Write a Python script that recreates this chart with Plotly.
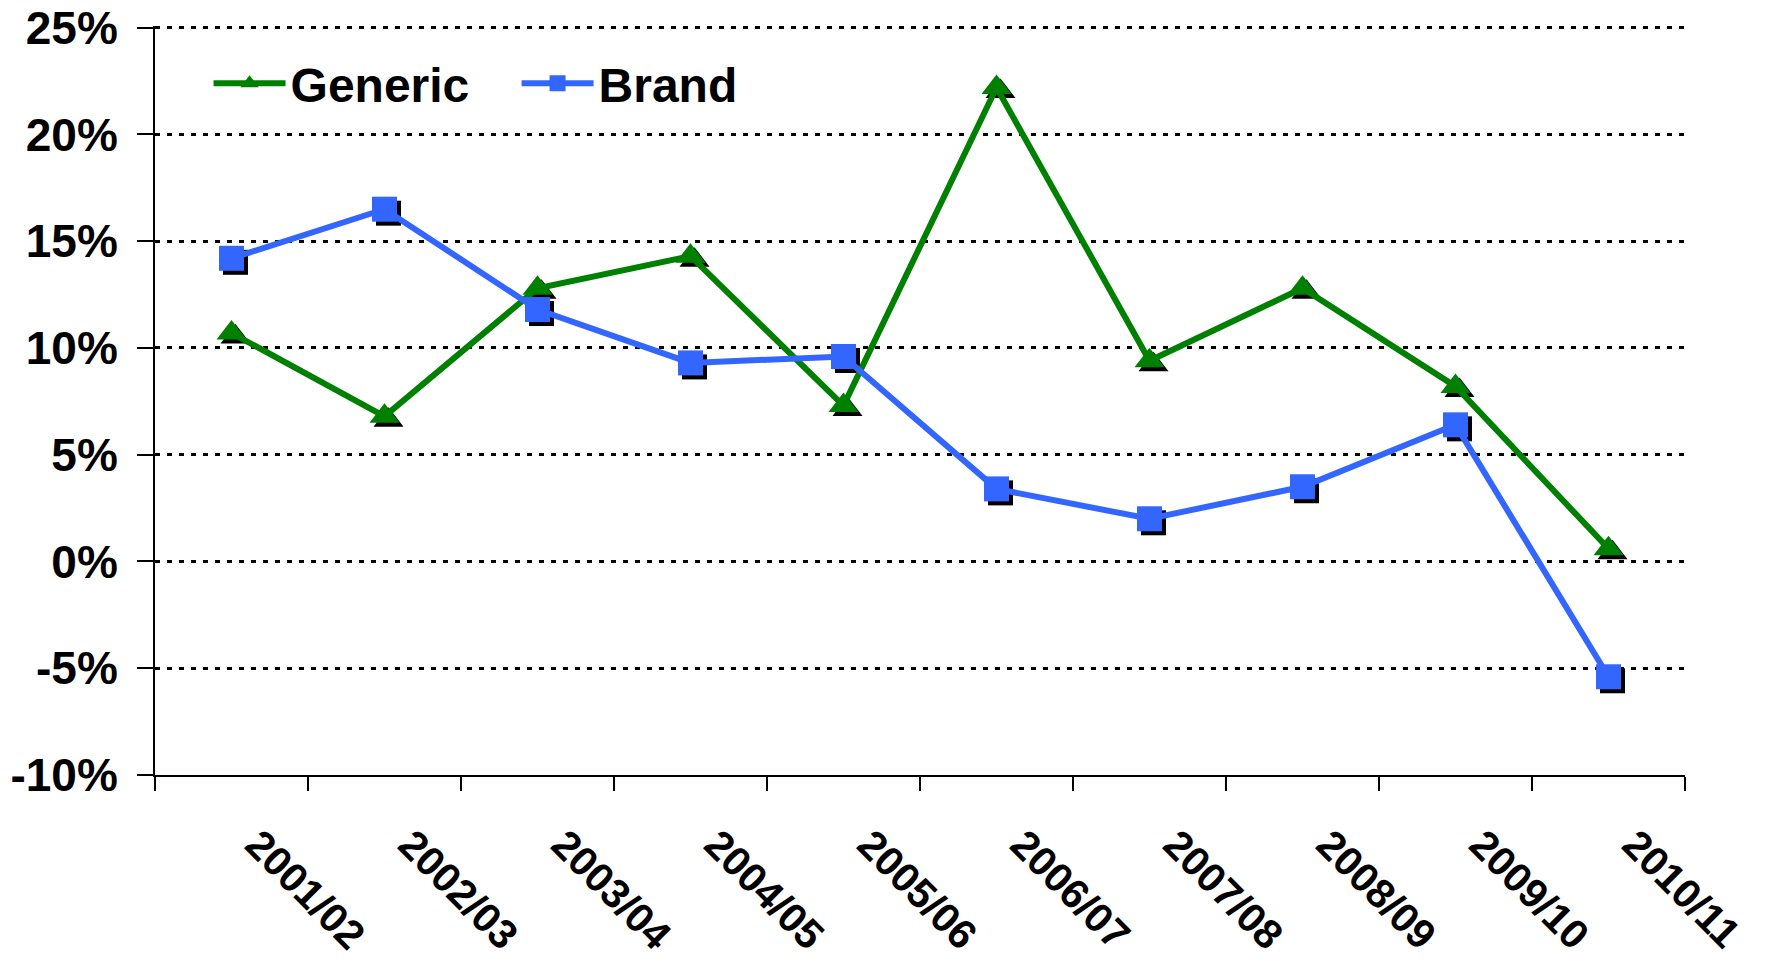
import plotly.graph_objects as go

# Annual growth rates by fiscal year
years = ["2001/02", "2002/03", "2003/04", "2004/05", "2005/06",
         "2006/07", "2007/08", "2008/09", "2009/10", "2010/11"]
generic = [10.7, 6.8, 12.8, 14.3, 7.3, 22.2, 9.4, 12.8, 8.2, 0.6]
brand = [14.2, 16.5, 11.8, 9.3, 9.6, 3.4, 2.0, 3.5, 6.4, -5.4]
y_ticks = [-10, -5, 0, 5, 10, 15, 20, 25]
y_labels = [f"{v}%" for v in y_ticks]

W, H = 1770, 959
M = dict(l=155, r=85, t=26, b=184)
plot_w = W - M["l"] - M["r"]
plot_h = H - M["t"] - M["b"]
x_range = [-0.5, len(years) - 0.5]
# small headroom so the top gridline is not clipped at the plot edge
y_range = [y_ticks[0], y_ticks[-1] + 0.08]

# drop-shadow offset for markers, converted from pixels to axis units
shadow_px = 4
sdx = shadow_px * (x_range[1] - x_range[0]) / plot_w
sdy = -shadow_px * (y_range[1] - y_range[0]) / plot_h

xs = list(range(len(years)))
GREEN = "#008000"
BLUE = "#3366FF"
FONT = "Liberation Sans, Arial, sans-serif"

TRI, SQ = 26, 25
LW = 6

fig = go.Figure()

# marker shadows
for vals, sym, size in [(generic, "triangle-up", TRI), (brand, "square", SQ)]:
    fig.add_trace(go.Scatter(
        x=[x + sdx for x in xs], y=[v + sdy for v in vals], mode="markers",
        marker=dict(symbol=sym, size=size, color="black", line=dict(width=0)),
        showlegend=False, hoverinfo="skip"))

fig.add_trace(go.Scatter(
    x=xs, y=generic, mode="lines+markers", name="Generic",
    line=dict(color=GREEN, width=LW),
    marker=dict(symbol="triangle-up", size=TRI, color=GREEN, line=dict(width=0))))
fig.add_trace(go.Scatter(
    x=xs, y=brand, mode="lines+markers", name="Brand",
    line=dict(color=BLUE, width=LW),
    marker=dict(symbol="square", size=SQ, color=BLUE, line=dict(width=0))))

fig.update_layout(
    width=W, height=H, margin=M,
    paper_bgcolor="white", plot_bgcolor="white",
    font=dict(family=FONT, color="black"),
    legend=dict(x=0.035, y=0.974, xanchor="left", yanchor="top",
                orientation="h", bgcolor="rgba(0,0,0,0)",
                font=dict(family=FONT, size=48, weight="bold", color="black"),
                itemwidth=72, entrywidth=221),
    xaxis=dict(
        range=x_range, tickmode="array", tickvals=xs, ticktext=years,
        tickangle=45, ticks="", showgrid=False, zeroline=False,
        showline=True, linecolor="black", linewidth=2,
        ticklabelstandoff=27, ticklabelshift=26, automargin=False,
        tickfont=dict(family=FONT, size=41, weight="bold", color="black"),
        minor=dict(tickmode="array",
                   tickvals=[x - 0.5 for x in range(len(years) + 1)],
                   ticks="outside", ticklen=14, tickwidth=2,
                   tickcolor="black", showgrid=False)),
    yaxis=dict(
        range=y_range, tickmode="array", tickvals=y_ticks, ticktext=y_labels,
        ticks="outside", ticklen=16, tickwidth=2, tickcolor="black",
        showline=True, linecolor="black", linewidth=2,
        showgrid=True, gridcolor="black", gridwidth=3, griddash="5px,7px",
        zeroline=False, ticklabelstandoff=10, automargin=False,
        tickfont=dict(family=FONT, size=46, weight="bold", color="black")),
)

fig.write_html("out.html")
